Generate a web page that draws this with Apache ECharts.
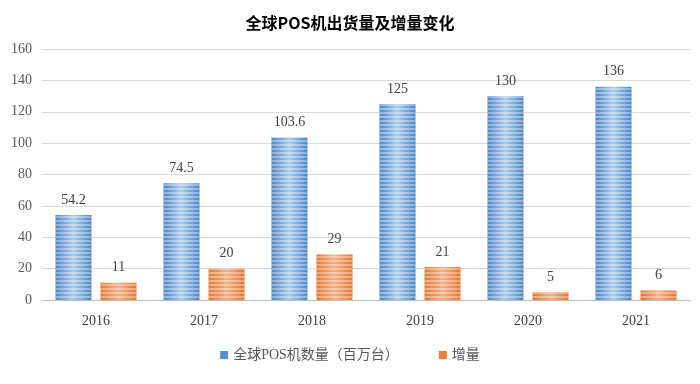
<!DOCTYPE html>
<html><head><meta charset="utf-8">
<script src="https://cdn.jsdelivr.net/npm/echarts@6/dist/echarts.min.js"></script>
<style>html,body{margin:0;padding:0;background:#fff}#c{width:700px;height:384px}</style>
</head><body><div id="c"></div>
<script>
var categories = ['2016','2017','2018','2019','2020','2021'];
var posCount = [54.2, 74.5, 103.6, 125, 130, 136];
var increment = [11, 20, 29, 21, 5, 6];
var yTicks = {min: 0, max: 160, interval: 20};

var serif = '"Liberation Serif","DejaVu Serif","Noto Sans CJK SC",serif';
function barStyle(dark, light) {
  return {
    color: {type:'linear', x:0, y:0, x2:1, y2:0, colorStops:[
      {offset:0, color:dark},{offset:0.5, color:light},{offset:1, color:dark}]},
    decal: {symbol:'rect', dashArrayX:[1,0], dashArrayY:[2,2], rotation:0, color:'rgba(255,255,255,0.35)', symbolSize:1}
  };
}
var chart = echarts.init(document.getElementById('c'));
chart.setOption({
  aria: {enabled:false},
  title: {text:'全球POS机出货量及增量变化', left:'center', top:10,
    textStyle:{fontFamily:'"Noto Sans CJK SC",sans-serif', fontSize:16, fontWeight:'bold', color:'#000'}},
  legend: {bottom:17, left:'center', itemWidth:8, itemHeight:8, itemGap:40, icon:'rect',
    textStyle:{fontFamily:serif, fontSize:14, color:'#595959'},
    data:[{name:'全球POS机数量（百万台）', itemStyle:{color:'#4f8fd0', decal:'none'}},{name:'增量', itemStyle:{color:'#ed7d31', decal:'none'}}]},
  grid: {left:42, right:10, top:49, bottom:84},
  xAxis: {type:'category', data:categories,
    axisLine:{lineStyle:{color:'#bfbfbf'}}, axisTick:{show:false},
    axisLabel:{fontFamily:serif, fontSize:14, color:'#404040', margin:14}},
  yAxis: {type:'value', min:yTicks.min, max:yTicks.max, interval:yTicks.interval,
    axisLine:{show:false}, axisTick:{show:false},
    splitLine:{lineStyle:{color:'#d9d9d9'}},
    axisLabel:{fontFamily:serif, fontSize:14, color:'#595959', margin:10}},
  series: [
    {name:'全球POS机数量（百万台）', type:'bar', data:posCount, barGap:'25%', barCategoryGap:'25%',
     itemStyle: barStyle('#4a86c8','#a9cdf0'),
     label:{show:true, position:'top', distance:8, fontFamily:serif, fontSize:14, color:'#404040'}},
    {name:'增量', type:'bar', data:increment,
     itemStyle: barStyle('#e8762c','#f6b185'),
     label:{show:true, position:'top', distance:8, fontFamily:serif, fontSize:14, color:'#404040'}}
  ]
});
</script></body></html>
